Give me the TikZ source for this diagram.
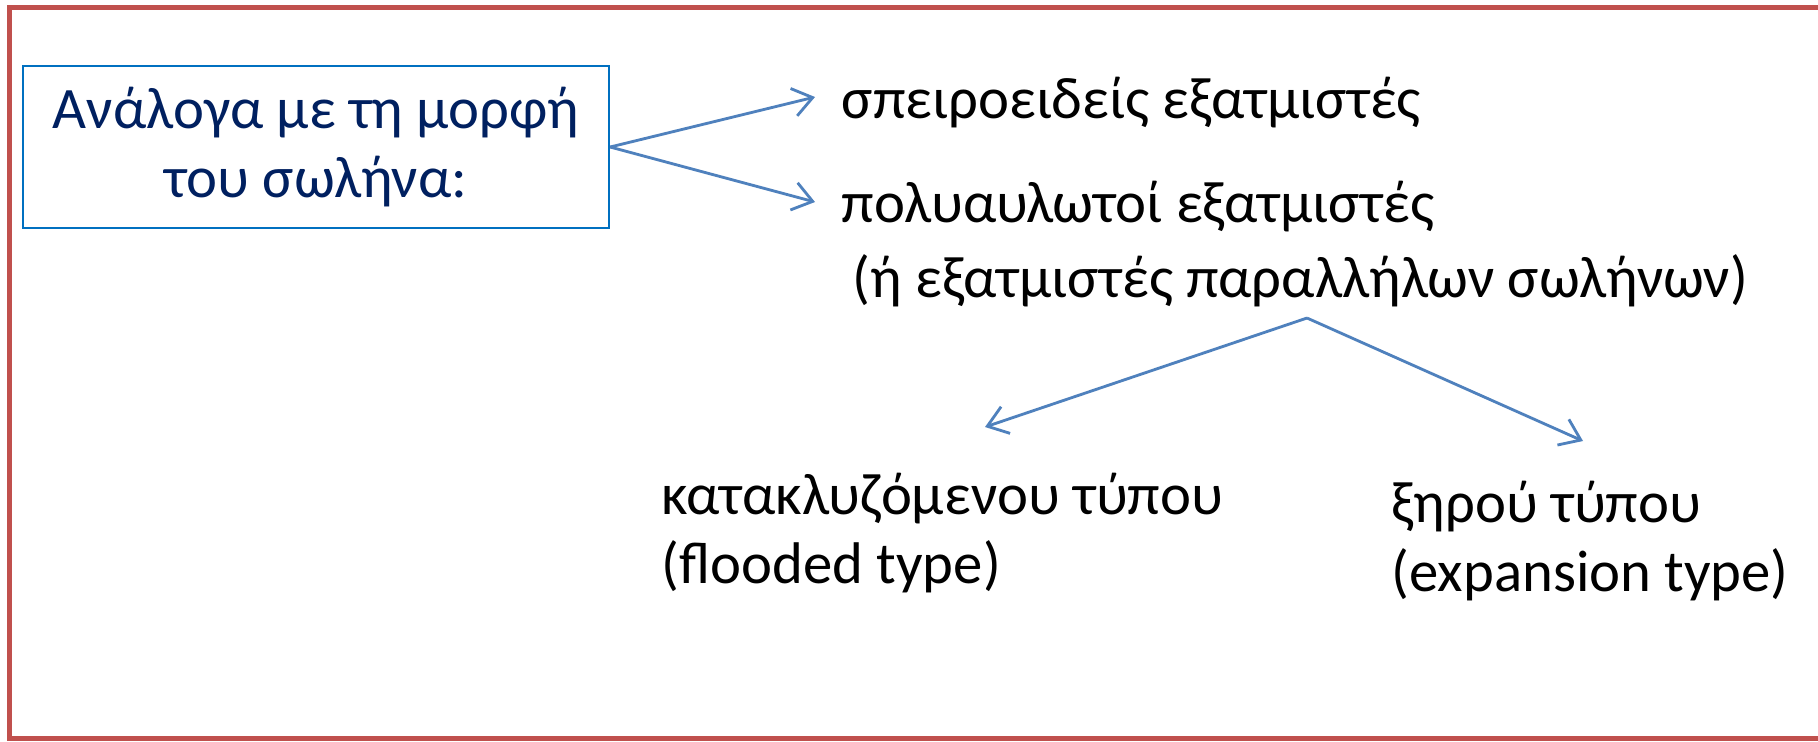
\documentclass[tikz,border=0pt]{standalone}
\usepackage{fontspec}
\setmainfont{Carlito}
\usetikzlibrary{arrows.meta}
\definecolor{framered}{HTML}{C0504D}
\definecolor{arrowblue}{HTML}{4F81BD}
\definecolor{boxblue}{HTML}{0070C0}
\definecolor{navy}{HTML}{002060}
\tikzset{
  label/.style={anchor=base west, inner sep=0pt, font=\fontsize{16.7}{19.6}\selectfont, align=left},
  flow/.style={draw=arrowblue, line width=0.8pt, -{Straight Barb[length=5.5pt, width=8pt, line width=0.8pt]}},
  framebar/.style={fill=framered},
}
\begin{document}
\begin{tikzpicture}[x=0.01cm, y=-0.01cm]
  \useasboundingbox (0,0) rectangle (1818,741);
  \fill[white] (0,0) rectangle (1818,741);
  % slide frame, open on the right: top, left and bottom bars
  \fill[framebar] (7,4.5) rectangle (1818,9.5);
  \fill[framebar] (7,4.5) rectangle (12,741);
  \fill[framebar] (7,736) rectangle (1818,741);

  % category box
  \node[draw=boxblue, line width=0.55pt, inner sep=0pt,
        minimum width=5.86cm, minimum height=1.62cm, text=navy,
        font=\fontsize{16.7}{19.6}\selectfont, align=center]
        (box) at (316,147) {Ανάλογα με τη μορφή\\του σωλήνα:};

  % tube-shape labels
  \node[label] (spiral) at (841,118) {σπειροειδείς εξατμιστές};
  \node[label] (multi) at (841,222) {πολυαυλωτοί εξατμιστές};
  \node[label] (para) at (852,297) {(ή εξατμιστές παραλλήλων σωλήνων)};
  \node[label] (flood) at (661,583) {κατακλυζόμενου τύπου\\(flooded type)};
  \node[label] (dry) at (1391,591) {ξηρού τύπου\\(expansion type)};

  % connector end points
  \coordinate (e1) at (815,97);
  \coordinate (e2) at (815,202);
  \coordinate (fork) at (1307,318);
  \coordinate (e3) at (985,427);
  \coordinate (e4) at (1583,441);

  \draw[flow] (box.east) -- (e1);
  \draw[flow] (box.east) -- (e2);
  \draw[flow] (fork) -- (e3);
  \draw[flow] (fork) -- (e4);
\end{tikzpicture}
\end{document}
